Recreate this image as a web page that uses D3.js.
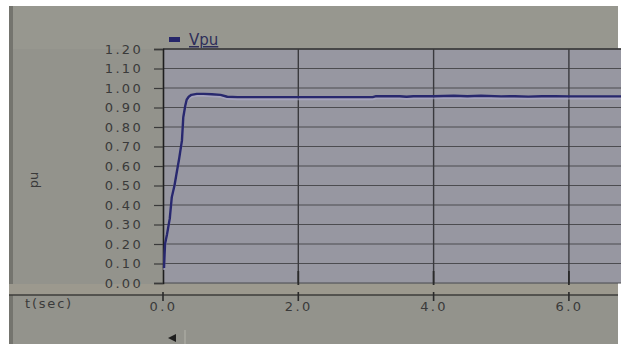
<!DOCTYPE html>
<html><head><meta charset="utf-8">
<script src="https://cdn.jsdelivr.net/npm/d3@7"></script>
<style>html,body{margin:0;padding:0;background:#fff;overflow:hidden}</style>
</head><body>
<svg id="c" width="621" height="344"></svg>
<script>
// Data
const timeSec = [0.015,0.03,0.06,0.10,0.13,0.17,0.20,0.24,0.28,0.30,0.33,0.35,0.38,0.42,0.50,0.60,0.72,0.85,0.95,1.10,1.50,2.00,2.50,3.00,3.10,3.15,3.50,3.60,3.70,4.00,4.30,4.50,4.70,5.00,5.20,5.40,5.60,5.80,6.00,6.40,6.77];
const vpu =     [0.077,0.20,0.25,0.33,0.44,0.50,0.56,0.64,0.73,0.85,0.91,0.94,0.955,0.965,0.97,0.97,0.968,0.965,0.955,0.953,0.953,0.953,0.953,0.953,0.953,0.958,0.958,0.955,0.958,0.958,0.960,0.958,0.960,0.957,0.958,0.956,0.958,0.958,0.957,0.957,0.957];
const yTicks = [0,0.1,0.2,0.3,0.4,0.5,0.6,0.7,0.8,0.9,1.0,1.1,1.2];
const xTicks = [0,2,4,6];
const seriesName = "Vpu";
const xTitle = "t(sec)";
const yTitle = "pu";

const svg = d3.select("#c");
const L = 163, R = 621, T = 49, B = 283;
const x = d3.scaleLinear().domain([0, 6.77]).range([L, R]);
const y = d3.scaleLinear().domain([0, 1.2]).range([B, T]);

const font = "DejaVu Sans, sans-serif";
// backgrounds
svg.append("rect").attr("x",9).attr("y",6).attr("width",609).attr("height",338).attr("fill","#93938c");
svg.append("rect").attr("x",9).attr("y",6).attr("width",609).attr("height",43).attr("fill","#97978f");
svg.append("rect").attr("x",9).attr("y",6).attr("width",4).attr("height",338).attr("fill","#74746e");
svg.append("rect").attr("x",L).attr("y",T).attr("width",R-L).attr("height",B-T).attr("fill","#9797a1");
svg.append("rect").attr("x",9).attr("y",B+1).attr("width",609).attr("height",11).attr("fill","#9c998e");

// horizontal grid
svg.append("g").selectAll("line").data(yTicks).join("line")
  .attr("x1",L).attr("x2",R).attr("y1",d=>y(d)).attr("y2",d=>y(d))
  .attr("stroke","#4c4c50").attr("stroke-width",1.2);
// vertical grid
svg.append("g").selectAll("line").data(xTicks.filter(d=>d>0)).join("line")
  .attr("x1",d=>x(d)).attr("x2",d=>x(d)).attr("y1",T).attr("y2",B)
  .attr("stroke","#3a3a3e").attr("stroke-width",1.4);

// top border
svg.append("line").attr("x1",L).attr("x2",R).attr("y1",T).attr("y2",T).attr("stroke","#3a3a3a").attr("stroke-width",1.5);

// y axis
const yAxis = d3.axisLeft(y).tickValues(yTicks).tickFormat(d3.format(".2f")).tickSize(9).tickPadding(11);
const gy = svg.append("g").attr("transform",`translate(${L},0)`).call(yAxis);
gy.select(".domain").attr("stroke","#1e1e1e").attr("stroke-width",1.6);
gy.selectAll(".tick line").attr("stroke","#3a3a3a").attr("stroke-width",1.2);
gy.selectAll(".tick text").attr("fill","#3a3a3a").style("font-family",font)
  .style("font-size","13px").style("letter-spacing","2.3px");

// lower x axis line
svg.append("line").attr("x1",9).attr("x2",618).attr("y1",295).attr("y2",295).attr("stroke","#3c3c3a").attr("stroke-width",1.3);
const xAxis = d3.axisBottom(x).tickValues(xTicks).tickFormat(d3.format(".1f")).tickSize(0).tickPadding(7);
const gx = svg.append("g").attr("transform",`translate(0,295)`).call(xAxis);
gx.select(".domain").remove();
gx.selectAll(".tick text").attr("fill","#3a3a3a").style("font-family",font)
  .style("font-size","13px").style("letter-spacing","2.4px");
// tick stubs
svg.append("g").selectAll("line").data(xTicks).join("line")
  .attr("x1",d=>x(d)).attr("x2",d=>x(d)).attr("y1",292).attr("y2",301)
  .attr("stroke","#2a2a2a").attr("stroke-width",1.6);
svg.append("g").selectAll("line").data(xTicks.filter(d=>d>0)).join("line")
  .attr("x1",d=>x(d)).attr("x2",d=>x(d)).attr("y1",B-12).attr("y2",B+2)
  .attr("stroke","#2a2a2a").attr("stroke-width",1.8);

// titles
svg.append("text").attr("x",25).attr("y",308).text(xTitle)
  .attr("fill","#3a3a3a").style("font-family",font).style("font-size","13px").style("letter-spacing","1.8px");
svg.append("text").attr("transform","translate(38,180) rotate(-90)").attr("text-anchor","middle").text(yTitle)
  .attr("fill","#3a3a3a").style("font-family",font).style("font-size","13px");

// legend
svg.append("rect").attr("x",169).attr("y",37).attr("width",11).attr("height",5).attr("fill","#26266a");
svg.append("text").attr("x",189).attr("y",45).text(seriesName).attr("fill","#2e2e5a")
  .style("font-family",font).style("font-size","15px").style("text-decoration","underline");

// line
const line = d3.line().x((d,i)=>x(timeSec[i])).y(d=>y(d));
svg.append("path").datum(vpu).attr("d",line).attr("transform","translate(0,2)")
  .attr("fill","none").attr("stroke","#b0aed0").attr("stroke-width",2).attr("opacity",0.6);
svg.append("path").datum(vpu).attr("d",line)
  .attr("fill","none").attr("stroke","#28286e").attr("stroke-width",2.4).attr("stroke-linejoin","round");

// scrollbar bits
svg.append("path").attr("d","M168,338 L176,334 L176,342 Z").attr("fill","#1e1e1e");
svg.append("line").attr("x1",185).attr("x2",185).attr("y1",330).attr("y2",344).attr("stroke","#a8a8a0").attr("stroke-width",1.5);
</script>
</body></html>
